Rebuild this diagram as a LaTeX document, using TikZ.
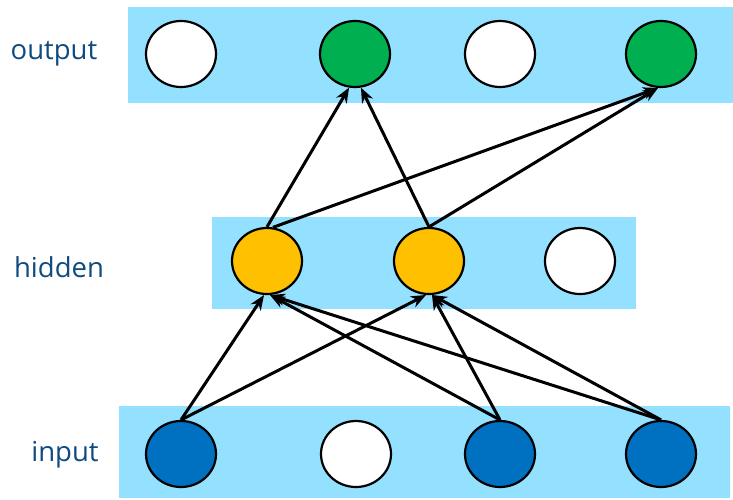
\documentclass[tikz,border=0pt]{standalone}
\usepackage{fontspec}
\setmainfont{Open Sans}
\usetikzlibrary{arrows.meta,shapes.geometric}
\definecolor{band}{HTML}{93E1FF}
\definecolor{nyellow}{HTML}{FFC000}
\definecolor{ngreen}{HTML}{00B050}
\definecolor{nblue}{HTML}{0070C0}
\definecolor{labelblue}{HTML}{0F4A80}
\tikzset{
  layerband/.style={fill=band, draw=none},
  unit/.style={ellipse, draw=black, line width=2.2pt, minimum width=70pt, minimum height=66pt, inner sep=0pt},
  layerlabel/.style={text=labelblue, font=\fontsize{27.5}{31}\selectfont},
  link/.style={line width=3pt, -{Stealth[length=15pt,width=12pt]}}
}
\begin{document}
\begin{tikzpicture}[x=1pt,y=-1pt]
\useasboundingbox (0,0) rectangle (733,499);
% layer bands
\fill[layerband] (128,7) rectangle (733,103);
\fill[layerband] (212,217) rectangle (636,309);
\fill[layerband] (119,406) rectangle (730,498);
% labels
\node[layerlabel] (lout) at (54,54) {output};
\node[layerlabel] (lhid) at (59,267) {hidden};
\node[layerlabel] (lin) at (65,455) {input};
% output layer
\node[unit, fill=white] (o1) at (181,54) {};
\node[unit, fill=ngreen] (o2) at (355,54) {};
\node[unit, fill=white] (o3) at (500,54) {};
\node[unit, fill=ngreen] (o4) at (661,54) {};
% hidden layer
\node[unit, fill=nyellow] (h1) at (267,261) {};
\node[unit, fill=nyellow] (h2) at (429,261) {};
\node[unit, fill=white] (h3) at (580,261) {};
% input layer
\node[unit, fill=nblue] (i1) at (181,454) {};
\node[unit, fill=white] (i2) at (356,454) {};
\node[unit, fill=nblue] (i3) at (500,454) {};
\node[unit, fill=nblue] (i4) at (661,454) {};
% input -> hidden
\draw[link] (i1.north) -- (h1.-95);
\draw[link] (i1.north) -- (h2.-95);
\draw[link] (i3.north) -- (h1.-85);
\draw[link] (i3.north) -- (h2.-85);
\draw[link] (i4.north) -- (h1.-85);
\draw[link] (i4.north) -- (h2.-85);
% hidden -> output
\draw[link] (h1.north) -- (o2.-100);
\draw[link] (h1.80) -- (o4.-95);
\draw[link] (h2.north) -- (o2.-80);
\draw[link] (h2.north) -- (o4.-95);
\end{tikzpicture}
\end{document}
